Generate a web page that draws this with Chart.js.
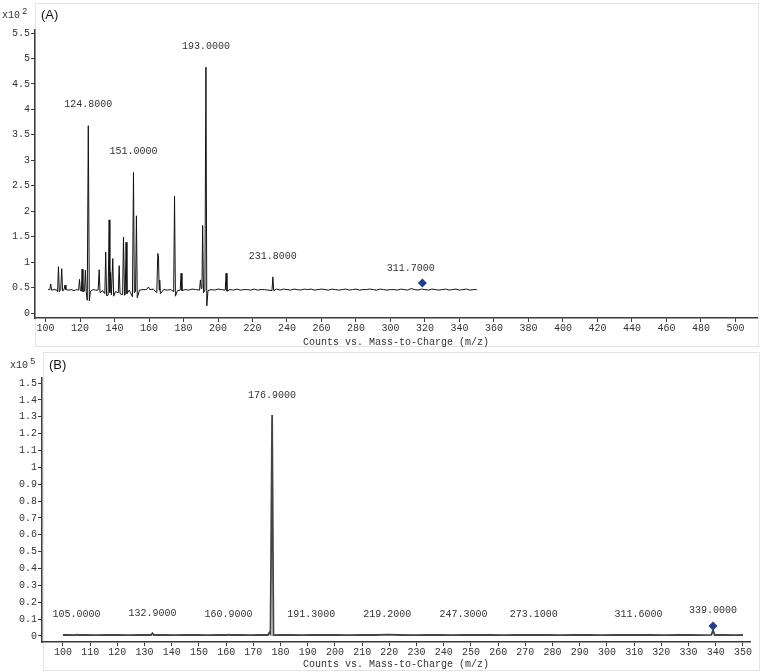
<!DOCTYPE html>
<html>
<head>
<meta charset="utf-8">
<script src="https://cdn.jsdelivr.net/npm/chart.js@4.4.1/dist/chart.umd.min.js"></script>
<style>
html, body { margin: 0; padding: 0; background: #fff; }
#wrap { position: relative; width: 763px; height: 672px; }
canvas { position: absolute; left: 0; }
#chartA { top: 0; }
#chartB { top: 349px; }
</style>
</head>
<body>
<div id="wrap">
<canvas id="chartA" width="763" height="349"></canvas>
<canvas id="chartB" width="763" height="323"></canvas>
</div>
<script>
// (A) spectrum, counts in x10^2
const topMz = [
  101.5, 102.5, 103.0, 103.5, 105.0, 106.5, 107.0, 107.5, 108.0, 108.8,
  109.4, 109.9, 110.8, 111.3, 111.8, 113.5, 115.0, 116.5, 118.0, 119.2,
  119.7, 120.2, 120.8, 121.2, 121.7, 122.6, 123.1, 123.6, 124.2, 124.8,
  125.4, 126.0, 127.5, 129.0, 130.5, 131.1, 131.6, 133.0, 134.4, 134.9,
  135.4, 136.3, 136.9, 137.3, 137.7, 138.2, 139.0, 139.5, 140.5, 142.2,
  142.7, 143.2, 144.7, 145.2, 145.8, 146.2, 146.7, 147.2, 148.5, 150.4,
  151.0, 151.5, 152.2, 152.7, 153.2, 154.5, 156.5, 158.5, 159.7, 160.5,
  162.5, 164.5, 165.1, 165.5, 165.9, 166.2, 166.6, 168.5, 170.5, 172.5,
  174.3, 174.8, 175.3, 176.5, 178.1, 178.6, 179.1, 181, 183, 185,
  187, 189.3, 189.8, 190.3, 190.7, 191.1, 191.6, 192.4, 193.0, 193.5,
  194.2, 196, 198, 200, 202, 204.2, 204.7, 205.2, 207, 209,
  211, 213, 215, 217, 219, 221, 223, 225, 227, 229,
  231.3, 231.8, 232.3, 234, 236, 238, 240, 242, 244, 246,
  248, 250, 252, 254, 256, 258, 260, 262, 264, 266,
  268, 270, 272, 274, 276, 278, 280, 282, 284, 286,
  288, 290, 292, 294, 296, 298, 300, 302, 304, 306,
  308, 310, 312, 314, 316, 318, 320, 322, 324, 326,
  328, 330, 332, 334, 336, 338, 340, 342, 344, 346,
  348, 350
];
const topCounts = [
  0.46, 0.46, 0.57, 0.45, 0.46, 0.45, 0.42, 0.91, 0.42, 0.46,
  0.87, 0.43, 0.47, 0.55, 0.46, 0.45, 0.46, 0.44, 0.46, 0.45,
  0.66, 0.44, 0.43, 0.86, 0.42, 0.43, 0.84, 0.42, 0.25, 3.68,
  0.24, 0.42, 0.46, 0.45, 0.45, 0.85, 0.40, 0.44, 0.38, 1.20,
  0.34, 0.35, 1.83, 0.40, 0.80, 0.36, 1.07, 0.33, 0.42, 0.40,
  0.93, 0.38, 0.36, 1.49, 0.35, 0.36, 1.39, 0.38, 0.45, 0.32,
  2.76, 0.40, 0.42, 1.91, 0.30, 0.45, 0.46, 0.46, 0.51, 0.46,
  0.47, 0.40, 1.17, 1.10, 0.45, 0.65, 0.38, 0.46, 0.45, 0.46,
  0.42, 2.30, 0.33, 0.44, 0.45, 0.78, 0.44, 0.46, 0.45, 0.47,
  0.46, 0.45, 0.65, 0.48, 0.50, 1.72, 0.40, 0.45, 4.83, 0.14,
  0.44, 0.46, 0.45, 0.47, 0.46, 0.45, 0.78, 0.43, 0.46, 0.45,
  0.47, 0.45, 0.46, 0.46, 0.45, 0.47, 0.45, 0.46, 0.46, 0.45,
  0.44, 0.71, 0.44, 0.47, 0.45, 0.47, 0.46, 0.45, 0.47, 0.46,
  0.45, 0.47, 0.46, 0.47, 0.45, 0.46, 0.47, 0.46, 0.45, 0.47,
  0.46, 0.45, 0.46, 0.47, 0.45, 0.46, 0.47, 0.45, 0.46, 0.46,
  0.47, 0.46, 0.45, 0.47, 0.46, 0.45, 0.46, 0.46, 0.45, 0.47,
  0.46, 0.45, 0.48, 0.46, 0.45, 0.47, 0.46, 0.45, 0.47, 0.46,
  0.45, 0.46, 0.47, 0.45, 0.46, 0.47, 0.45, 0.46, 0.47, 0.45,
  0.46, 0.46
];
const topXTicks = [100, 120, 140, 160, 180, 200, 220, 240, 260, 280, 300,
  320, 340, 360, 380, 400, 420, 440, 460, 480, 500];
const topYTicks = [0, 0.5, 1, 1.5, 2, 2.5, 3, 3.5, 4, 4.5, 5, 5.5];
const topLabelMz = [124.8, 151.0, 193.0, 231.8, 311.7];
const topLabelCounts = [3.68, 2.76, 4.83, 0.71, 0.47];
const topLabelText = ['124.8000', '151.0000', '193.0000', '231.8000', '311.7000'];
const topMarkerMz = [318.5];
const topMarkerCounts = [0.59];

// (B) spectrum, counts in x10^5
const bottomMz = [
  100, 102, 104.5, 105, 105.5, 108, 112, 116, 120, 124,
  128, 132.4, 132.9, 133.4, 137, 141, 145, 149, 153, 157,
  160.4, 160.9, 161.4, 165, 169, 172, 175.4, 175.9, 176.3, 176.9,
  177.4, 180, 184, 188, 191.3, 195, 200, 205, 210, 215,
  219.2, 224, 229, 234, 239, 243, 247.3, 252, 257, 262,
  267, 273.1, 278, 283, 288, 293, 298, 303, 308, 311.6,
  316, 321, 326, 331, 335, 338.4, 339.0, 339.6, 343, 347,
  350
];
const bottomCounts = [
  0.006, 0.006, 0.005, 0.008, 0.006, 0.006, 0.005, 0.006, 0.006, 0.005,
  0.006, 0.006, 0.016, 0.006, 0.006, 0.005, 0.006, 0.006, 0.005, 0.006,
  0.006, 0.008, 0.006, 0.006, 0.005, 0.006, 0.006, 0.020, 0.012, 1.31,
  0.005, 0.006, 0.006, 0.005, 0.007, 0.006, 0.006, 0.005, 0.006, 0.006,
  0.008, 0.006, 0.005, 0.006, 0.006, 0.005, 0.007, 0.006, 0.006, 0.005,
  0.006, 0.007, 0.006, 0.005, 0.006, 0.006, 0.005, 0.006, 0.006, 0.007,
  0.006, 0.005, 0.006, 0.006, 0.005, 0.006, 0.035, 0.006, 0.006, 0.005,
  0.006
];
const bottomXTicks = [100, 110, 120, 130, 140, 150, 160, 170, 180, 190, 200,
  210, 220, 230, 240, 250, 260, 270, 280, 290, 300, 310, 320, 330, 340, 350];
const bottomYTicks = [0, 0.1, 0.2, 0.3, 0.4, 0.5, 0.6, 0.7, 0.8, 0.9, 1,
  1.1, 1.2, 1.3, 1.4, 1.5];
const bottomLabelMz = [105.0, 132.9, 160.9, 176.9, 191.3, 219.2, 247.3, 273.1, 311.6, 339.0];
const bottomLabelCounts = [0.008, 0.016, 0.008, 1.31, 0.007, 0.008, 0.007, 0.007, 0.007, 0.035];
const bottomLabelText = ['105.0000', '132.9000', '160.9000', '176.9000', '191.3000',
  '219.2000', '247.3000', '273.1000', '311.6000', '339.0000'];
const bottomMarkerMz = [339.0];
const bottomMarkerCounts = [0.06];

const monoFont = '"Liberation Mono", "DejaVu Sans Mono", monospace';
const textColor = '#333';
const axisColor = '#3a3a3a';

// frame, panel letter, exponent and peak labels
const spectrumDecor = {
  id: 'spectrumDecor',
  beforeDraw(chart, args, o) {
    const ctx = chart.ctx;
    ctx.save();
    ctx.strokeStyle = '#e4e4e4';
    ctx.lineWidth = 1;
    ctx.strokeRect(o.frame[0] + 0.5, o.frame[1] + 0.5, o.frame[2], o.frame[3]);
    ctx.restore();
  },
  afterDraw(chart, args, o) {
    const {ctx, scales: {x, y}} = chart;
    ctx.save();
    ctx.fillStyle = textColor;
    ctx.textBaseline = 'middle';
    ctx.textAlign = 'center';
    ctx.font = '10px ' + monoFont;
    o.mz.forEach((m, i) => {
      ctx.fillText(o.text[i], x.getPixelForValue(m), y.getPixelForValue(o.counts[i]) - o.lift);
    });
    // x10^n
    ctx.textAlign = 'left';
    ctx.fillText('x10', o.exp[0], o.exp[1]);
    ctx.font = '9px ' + monoFont;
    ctx.fillText(o.power, o.exp[0] + 20, o.exp[1] - 3);
    // panel letter
    ctx.fillStyle = '#111';
    ctx.font = '13px "Liberation Sans", Arial, sans-serif';
    ctx.fillText(o.panel, o.panelPos[0], o.panelPos[1]);
    ctx.restore();
  }
};

function oneDecimal(v) {
  return String(Number(v.toFixed(1)));
}

function makeSpectrum(canvasId, cfg) {
  return new Chart(document.getElementById(canvasId), {
    type: 'line',
    data: {
      datasets: [{
        data: cfg.mz.map((m, i) => ({x: m, y: cfg.counts[i]})),
        borderColor: cfg.lineColor,
        borderWidth: cfg.lineWidth,
        pointRadius: 0,
        tension: 0,
        fill: false
      }, {
        data: cfg.markerMz.map((m, i) => ({x: m, y: cfg.markerCounts[i]})),
        showLine: false,
        pointStyle: 'rectRot',
        pointRadius: 4.5,
        pointBackgroundColor: '#1f3f8c',
        pointBorderColor: '#1f3f8c',
        pointBorderWidth: 0
      }]
    },
    options: {
      responsive: false,
      animation: false,
      devicePixelRatio: 1,
      layout: {padding: cfg.padding},
      plugins: {
        legend: {display: false},
        tooltip: {enabled: false},
        spectrumDecor: cfg.decor
      },
      scales: {
        x: {
          type: 'linear',
          min: cfg.xMin,
          max: cfg.xMax,
          afterBuildTicks: s => { s.ticks = cfg.xTicks.map(v => ({value: v})); },
          afterFit: s => { s.height = cfg.xHeight; },
          ticks: {
            autoSkip: false,
            maxRotation: 0,
            padding: 0,
            color: textColor,
            font: {family: monoFont, size: 10}
          },
          grid: {drawOnChartArea: false, tickLength: 4, color: axisColor, lineWidth: 1},
          border: {color: axisColor, width: 1.5},
          title: {
            display: true,
            text: 'Counts vs. Mass-to-Charge (m/z)',
            color: textColor,
            font: {family: monoFont, size: 10},
            padding: {top: 0, bottom: cfg.titlePad}
          }
        },
        y: {
          min: cfg.yMin,
          max: cfg.yMax,
          afterBuildTicks: s => { s.ticks = cfg.yTicks.map(v => ({value: v})); },
          afterFit: s => { s.width = cfg.yWidth; },
          ticks: {
            padding: 1,
            color: textColor,
            font: {family: monoFont, size: 10},
            callback: v => oneDecimal(v)
          },
          grid: {drawOnChartArea: false, tickLength: 4, color: axisColor, lineWidth: 1},
          border: {color: axisColor, width: 1.5}
        }
      }
    },
    plugins: [spectrumDecor]
  });
}

makeSpectrum('chartA', {
  mz: topMz, counts: topCounts,
  markerMz: topMarkerMz, markerCounts: topMarkerCounts,
  lineColor: '#111', lineWidth: 1,
  padding: {top: 30, right: 6, left: 0, bottom: 0},
  xMin: 93.9, xMax: 512.5, xTicks: topXTicks, xHeight: 31, titlePad: 1,
  yMin: -0.098, yMax: 5.56, yTicks: topYTicks, yWidth: 35,
  decor: {
    mz: topLabelMz, counts: topLabelCounts, text: topLabelText, lift: 21,
    frame: [35, 3, 723, 343],
    exp: [2, 15], power: '2',
    panel: '(A)', panelPos: [41, 15]
  }
});

makeSpectrum('chartB', {
  mz: bottomMz, counts: bottomCounts,
  markerMz: bottomMarkerMz, markerCounts: bottomMarkerCounts,
  lineColor: '#444', lineWidth: 1.8,
  padding: {top: 29, right: 13, left: 0, bottom: 0},
  xMin: 92.3, xMax: 352.6, xTicks: bottomXTicks, xHeight: 30, titlePad: 2,
  yMin: -0.0356, yMax: 1.53, yTicks: bottomYTicks, yWidth: 42,
  decor: {
    mz: bottomLabelMz, counts: bottomLabelCounts, text: bottomLabelText, lift: 20,
    frame: [43, 3, 716, 318],
    exp: [10, 16], power: '5',
    panel: '(B)', panelPos: [49, 16]
  }
});
</script>
</body>
</html>
